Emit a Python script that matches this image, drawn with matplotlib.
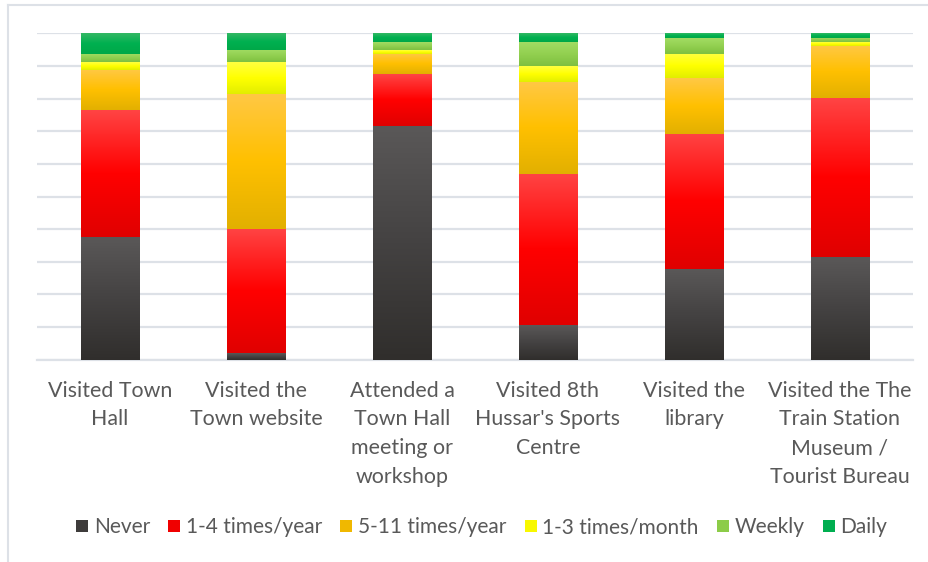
import numpy as np
import matplotlib
matplotlib.use("Agg")
import matplotlib.pyplot as plt
from matplotlib.colors import LinearSegmentedColormap
from matplotlib.lines import Line2D

categories = ["Visited Town\nHall", "Visited the\nTown website", "Attended a\nTown Hall\nmeeting or\nworkshop",
              "Visited 8th\nHussar's Sports\nCentre", "Visited the\nlibrary",
              "Visited the The\nTrain Station\nMuseum /\nTourist Bureau"]
series_names = ["Never", "1-4 times/year", "5-11 times/year", "1-3 times/month", "Weekly", "Daily"]
never = [37.6, 2.0, 71.6, 10.6, 27.8, 31.5]
times_1_4_year = [38.9, 38.0, 15.9, 46.3, 41.4, 48.7]
times_5_11_year = [12.4, 41.4, 6.3, 28.3, 17.1, 16.0]
times_1_3_month = [2.3, 9.8, 1.1, 4.8, 7.4, 1.1]
weekly = [2.5, 3.7, 2.4, 7.3, 4.9, 1.3]
daily = [6.3, 5.1, 2.7, 2.7, 1.4, 1.4]
values = [never, times_1_4_year, times_5_11_year, times_1_3_month, weekly, daily]

# gradient stops (top, middle, bottom) for each series
grad = [
    ("#5a5858", "#444242", "#302e2c"),
    ("#ff4444", "#ff0000", "#e00000"),
    ("#ffc845", "#ffc000", "#e2b000"),
    ("#ffff40", "#ffff00", "#e2ee00"),
    ("#a2dc64", "#92d050", "#7ec040"),
    ("#34b864", "#00b050", "#00a848"),
]
legend_colors = ["#3e3c3b", "#f00000", "#f0b800", "#f8f800", "#8ccc48", "#00ae50"]

W, H = 929, 562
fig = plt.figure(figsize=(W / 100, H / 100), dpi=100)
ax = fig.add_axes([37 / W, 1 - 359.7 / H, (913 - 37) / W, (359.7 - 33.3) / H])

grid_c = "#dde1e7"
font = ["Lato", "DejaVu Sans"]
text_c = "#595959"

x = np.arange(len(categories))
bottom = np.zeros(len(categories))
bw = 0.40
for i, (vals, stops) in enumerate(zip(values, grad)):
    bars = ax.bar(x, vals, bw, bottom=bottom, color=stops[1], linewidth=0, zorder=2)
    cmap = LinearSegmentedColormap.from_list(f"g{i}", [stops[2], stops[1], stops[0]])
    g = np.linspace(0, 1, 256).reshape(-1, 1)
    for p in bars:
        x0, y0 = p.get_x(), p.get_y()
        im = ax.imshow(g, cmap=cmap, origin="lower", aspect="auto",
                       extent=(x0, x0 + p.get_width(), y0, y0 + p.get_height()),
                       zorder=3, interpolation="bilinear")
        im.set_clip_path(p)
    bottom += np.array(vals)

ax.set_xlim(-0.5, len(categories) - 0.5)
ax.set_ylim(0, 100)
ax.set_yticks(np.arange(0, 101, 10))
ax.yaxis.grid(True, color=grid_c, linewidth=1.6, zorder=0)
ax.set_axisbelow(True)
ax.tick_params(axis="y", left=False, labelleft=False)
ax.tick_params(axis="x", length=0, pad=15)
ax.set_xticks(x)
ax.set_xticklabels(categories, fontsize=15.4, color=text_c, family=font, linespacing=1.56)
for s in ["left", "right", "top"]:
    ax.spines[s].set_visible(False)
ax.spines["bottom"].set_color(grid_c)
ax.spines["bottom"].set_linewidth(1.6)

handles = [Line2D([], [], marker="s", linestyle="none", markersize=9,
                  markerfacecolor=c, markeredgewidth=0) for c in legend_colors]
fig.legend(handles, series_names, loc="center", bbox_to_anchor=(481 / W, 1 - 527 / H), ncol=6,
           frameon=False, handletextpad=0.2, columnspacing=0.82, handlelength=0.7,
           prop={"family": font, "size": 15}, labelcolor=text_c)

# chart border (top and left)
fig.add_artist(Line2D([8 / W, 1], [1 - 5 / H, 1 - 5 / H], color=grid_c, linewidth=1.5))
fig.add_artist(Line2D([8 / W, 8 / W], [0, 1 - 5 / H], color=grid_c, linewidth=1.5))

fig.savefig("out.png", dpi=100)
